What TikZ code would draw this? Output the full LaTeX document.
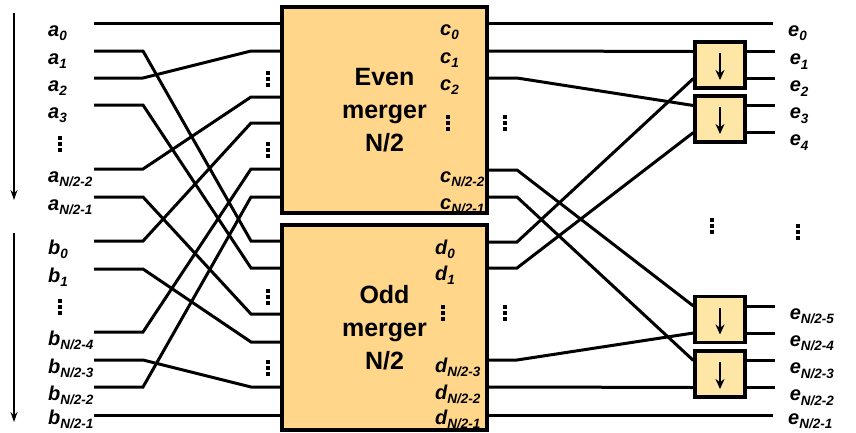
\documentclass[tikz,border=0pt]{standalone}
\usepackage{fontspec}
\setmainfont{Liberation Sans}
\usetikzlibrary{arrows.meta}

\definecolor{mergerfill}{HTML}{FFD68A}
\definecolor{cmpfill}{HTML}{FDE6A6}

\newcommand\sub[1]{\raisebox{-4.5pt}{\fontsize{13.5}{13.5}\selectfont #1}}

\tikzset{
	wire/.style={line width=3pt},
	merger/.style={draw, line width=3.5pt, fill=mergerfill, minimum width=205pt,
		minimum height=206pt, align=center, font=\fontsize{25}{33}\selectfont\bfseries},
	cmp/.style={draw, line width=3.2pt, fill=cmpfill, minimum width=50pt, minimum height=46pt},
	lbl/.style={anchor=base west, inner sep=0pt, font=\fontsize{20}{20}\selectfont\bfseries\itshape},
	vdots/.pic={\foreach \k in {-6,0,6} \fill (-1.6,\k-1.6) rectangle +(3.2,3.2);}
}

\begin{document}
\begin{tikzpicture}[x=1pt, y=-1pt]

\path [use as bounding box] (0,0) rectangle (856,432);

% MERGERS
\node [merger] (even) at (384.5,110) {Even\\merger\\N/2};
\node [merger, minimum height=205pt] (odd) at (384.5,327.5) {Odd\\merger\\N/2};

% COMPARATORS
\foreach \n/\y in {k1/65, k2/119, k3/319.5, k4/374} {
	\node [cmp] (\n) at (720,\y) {};
	\draw [line width=2.2pt, -{Stealth[length=10pt, width=9pt]}] (\n.center) +(0,-12) -- +(0,15);
	\path (\n.west) +(0,-13.5) coordinate (\n a) +(0,13.5) coordinate (\n b);
	\path (\n.east) +(0,-13.5) coordinate (\n c) +(0,13.5) coordinate (\n d);
}

% INPUTS
\foreach \n/\y in {a0/23, a1/51, a2/78, a3/105, a4/169, a5/197,
		b0/241, b1/269, b2/332, b3/360, b4/387, b5/415}
	\coordinate (\n) at (94,\y);
\foreach \i/\y in {0/23, 1/51, 2/97, 3/123, 4/169, 5/197}
	\coordinate (E\i) at (282,\y);
\foreach \i/\y in {0/241, 1/268, 2/314, 3/342, 4/387, 5/415}
	\coordinate (O\i) at (282,\y);

% OUTPUTS
\foreach \i/\y in {0/23, 1/51, 2/78, 3/170, 4/197}
	\coordinate (C\i) at (487,\y);
\foreach \i/\y in {0/242, 1/268, 2/360, 3/387, 4/415}
	\coordinate (D\i) at (487,\y);
\coordinate (e0) at (773,23);
\coordinate (e9) at (773,415);
\foreach \n/\i/\j in {k1/1/2, k2/3/4, k3/5/6, k4/7/8} {
	\path (\n c) +(28,0) coordinate (e\i);
	\path (\n d) +(28,0) coordinate (e\j);
}

% SHUFFLE
\foreach \s/\t in {a0/E0, a1/O0, a2/E1, a3/O1, a4/E2, a5/O2,
		b0/E3, b1/O3, b2/E4, b3/O4, b4/E5, b5/O5}
	\draw [wire] (\s) -- ++(49,0) -- ([xshift=-31pt]\t) -- (\t);

% FINAL STAGE
\foreach \s/\t in {C0/e0, C1/k1a, C2/k2a, C3/k3a, C4/k4a,
		D0/k1b, D1/k2b, D2/k3b, D3/k4b, D4/e9}
	\draw [wire] (\s) -- ++(30,0) -- (\t);
\foreach \n/\i/\j in {k1/1/2, k2/3/4, k3/5/6, k4/7/8} {
	\draw [wire] (\n c) -- (e\i);
	\draw [wire] (\n d) -- (e\j);
}

% LABELS
\foreach \n/\l/\s in {a0/a/0, a1/a/1, a2/a/2, a3/a/3, a4/a/{N/2-2}, a5/a/{N/2-1},
		b0/b/0, b1/b/1, b2/b/{N/2-4}, b3/b/{N/2-3}, b4/b/{N/2-2}}
	\node [lbl] at ([xshift=-46pt, yshift=-13pt]\n) {\l\sub{\s}};
\node [lbl] at ([xshift=-46pt, yshift=-9pt]b5) {b\sub{N/2-1}};
\foreach \n/\s in {C0/0, C1/1, C2/2, C3/{N/2-2}, C4/{N/2-1}}
	\node [lbl] at ([xshift=-47pt, yshift=-12pt]\n) {c\sub{\s}};
\foreach \n/\s in {D0/0, D1/1, D2/{N/2-3}, D3/{N/2-2}}
	\node [lbl] at ([xshift=-52pt, yshift=-12pt]\n) {d\sub{\s}};
\node [lbl] at ([xshift=-52pt, yshift=-9pt]D4) {d\sub{N/2-1}};
\foreach \n/\s in {e0/0, e1/1, e2/2, e3/3, e4/4,
		e5/{N/2-5}, e6/{N/2-4}, e7/{N/2-3}, e8/{N/2-2}}
	\node [lbl] at ([xshift=15pt, yshift=-13pt]\n) {e\sub{\s}};
\node [lbl] at ([xshift=15pt, yshift=-9pt]e9) {e\sub{N/2-1}};

% DOTS
\foreach \x/\y in {60/144, 60/307, 268/79, 268/150, 268/297, 268/368,
		448/123, 443/313, 505/123, 505/313, 712/226, 798/232}
	\pic at (\x,\y) {vdots};

% ORDER ARROWS
\draw [line width=1.4pt, -{Stealth[length=10pt, width=7pt]}] (14,13) -- (14,200);
\draw [line width=1.4pt, -{Stealth[length=10pt, width=7pt]}] (14,233) -- (14,422);

\end{tikzpicture}
\end{document}
